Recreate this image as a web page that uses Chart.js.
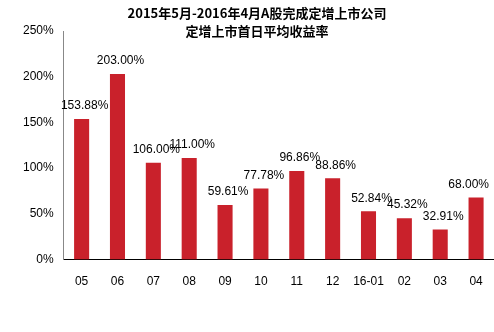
<!DOCTYPE html>
<html>
<head>
<meta charset="utf-8">
<script src="https://cdn.jsdelivr.net/npm/chart.js@4"></script>
<style>
  html, body { margin: 0; padding: 0; background: #fff; }
  #wrap { width: 494px; height: 332px; position: relative; }
</style>
</head>
<body>
<div id="wrap"><canvas id="chart"></canvas></div>
<script>
// ---- DATA ----
const titleLines = ["2015年5月-2016年4月A股完成定增上市公司", "定增上市首日平均收益率"];
const months = ["05", "06", "07", "08", "09", "10", "11", "12", "16-01", "02", "03", "04"];
const returns = [153.88, 203.00, 106.00, 111.00, 59.61, 77.78, 96.86, 88.86, 52.84, 45.32, 32.91, 68.00];
const yTicks = [0, 50, 100, 150, 200, 250];

// ---- PLUGINS ----
// value labels above bars (kept inside the canvas on the right)
const barLabels = {
    id: "barLabels",
    afterDatasetsDraw(chart) {
        const ctx = chart.ctx;
        const meta = chart.getDatasetMeta(0);
        ctx.save();
        ctx.font = "12px 'Liberation Sans', Arial, sans-serif";
        ctx.fillStyle = "#000";
        ctx.textAlign = "center";
        ctx.textBaseline = "bottom";
        meta.data.forEach((bar, i) => {
            const txt = returns[i].toFixed(2) + "%";
            const w = ctx.measureText(txt).width;
            const x = Math.min(bar.x + 3, chart.width - 5 - w / 2);
            ctx.fillText(txt, x, bar.y - 7);
        });
        ctx.restore();
    }
};

// two-line title drawn over the top of the plot
const topTitle = {
    id: "topTitle",
    afterDraw(chart) {
        const ctx = chart.ctx;
        ctx.save();
        ctx.font = "bold 13px 'Noto Sans CJK SC', sans-serif";
        ctx.fillStyle = "#000";
        ctx.textAlign = "center";
        ctx.textBaseline = "middle";
        ctx.fillText(titleLines[0], 257, 13);
        ctx.fillText(titleLines[1], 257, 31);
        ctx.restore();
    }
};

// ---- CHART ----
new Chart(document.getElementById("chart"), {
    type: "bar",
    data: {
        labels: months,
        datasets: [{
            data: returns,
            backgroundColor: "#C9212B",
            categoryPercentage: 1,
            barPercentage: 0.42
        }]
    },
    options: {
        responsive: true,
        maintainAspectRatio: false,
        animation: false,
        layout: { padding: { top: 31, right: 0, bottom: 28, left: 13 } },
        plugins: {
            legend: { display: false },
            tooltip: { enabled: false },
            title: { display: false }
        },
        scales: {
            x: {
                afterFit(scale) { scale.paddingLeft = 0; scale.paddingRight = 0; },
                grid: { display: false, drawTicks: false },
                border: { color: "#000", width: 1 },
                ticks: {
                    color: "#000",
                    padding: 15,
                    autoSkip: false,
                    minRotation: 0,
                    maxRotation: 0,
                    font: { size: 12, family: "'Liberation Sans', Arial, sans-serif" }
                }
            },
            y: {
                min: 0,
                max: 250,
                afterBuildTicks(scale) { scale.ticks = yTicks.map(v => ({ value: v })); },
                grid: { display: false, drawTicks: false },
                border: { color: "#888", width: 1 },
                ticks: {
                    color: "#000",
                    padding: 10,
                    font: { size: 12, family: "'Liberation Sans', Arial, sans-serif" },
                    callback: v => v + "%"
                }
            }
        }
    },
    plugins: [barLabels, topTitle]
});
</script>
</body>
</html>
